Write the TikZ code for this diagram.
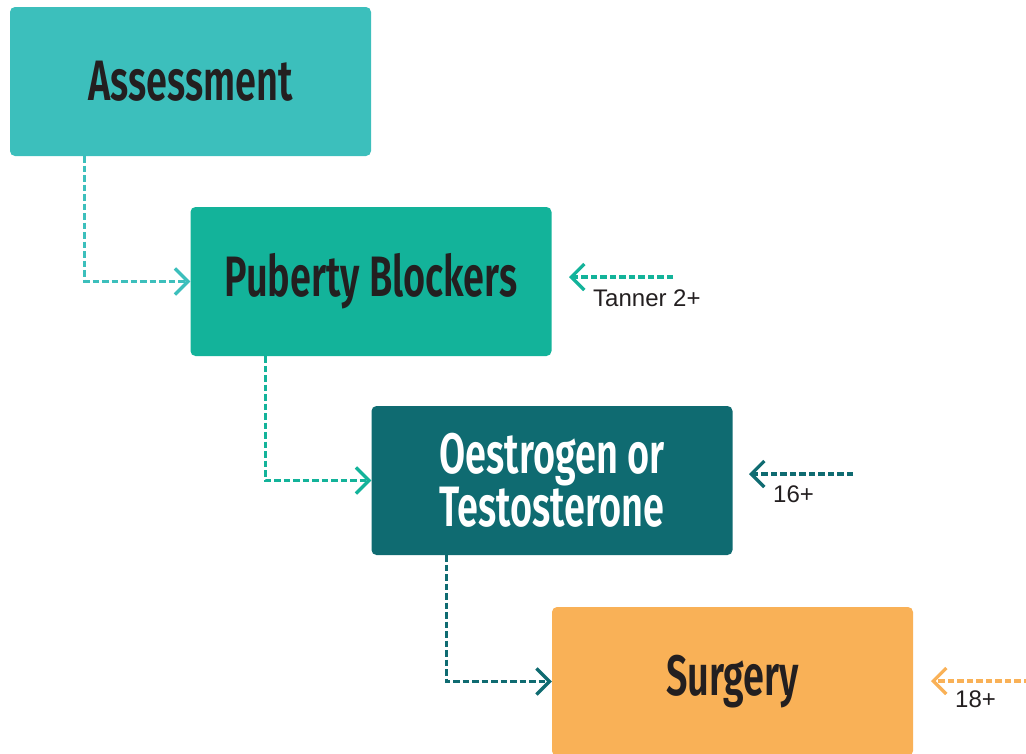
\documentclass[tikz,border=0pt]{standalone}
\usepackage{fontspec}
\setmainfont{Liberation Sans}
\newfontfamily\headfont[FakeStretch=0.665]{Fira Sans SemiBold}
\usetikzlibrary{arrows.meta}
\definecolor{cA}{HTML}{3CBFBC}
\definecolor{cB}{HTML}{13B39A}
\definecolor{cC}{HTML}{0F6B71}
\definecolor{cD}{HTML}{F9B157}
\definecolor{ink}{HTML}{231F20}
\tikzset{
  stagebox/.style={rounded corners=5pt, minimum width=361pt, minimum height=149pt, inner sep=0pt,
    font=\headfont\fontsize{57}{45}\selectfont, text=ink, align=center},
  conn/.style={line width=3.3pt, dash pattern=on 6.5pt off 3pt,
    -{Straight Barb[length=13pt,width=26pt,line width=3.3pt]}},
  agelabel/.style={anchor=base west, inner sep=0pt, font=\fontsize{24}{26}\selectfont, text=ink}
}
\begin{document}
\begin{tikzpicture}[x=1pt,y=-1pt]
\clip (0,0) rectangle (1026,753);
\node[stagebox, fill=cA] (a) at (190.5,81.5) {Assessment};
\node[stagebox, fill=cB] (b) at (371,281.5) {Puberty Blockers};
\node[stagebox, fill=cC, text=white] (c) at (552,480.5) {Oestrogen or\\Testosterone};
\node[stagebox, fill=cD] (d) at (732.5,681.5) {Surgery};
\draw[conn, cA] ([xshift=75pt]a.south west) |- (b.west);
\draw[conn, cB] ([xshift=75pt]b.south west) |- (c.west);
\draw[conn, cC] ([xshift=75pt]c.south west) |- (d.west);
\coordinate (t1) at (673,277); \coordinate (t2) at (569,277);
\coordinate (s1) at (853,474); \coordinate (s2) at (749,474);
\coordinate (e1) at (1030,681); \coordinate (e2) at (931,681);
\draw[conn, cB] (t1) -- (t2);
\draw[conn, cC] (s1) -- (s2);
\draw[conn, cD] (e1) -- (e2);
\node[agelabel] (lt) at (593,306) {Tanner 2+};
\node[agelabel] (ls) at (773,502) {16+};
\node[agelabel] (le) at (955,707) {18+};
\end{tikzpicture}
\end{document}
